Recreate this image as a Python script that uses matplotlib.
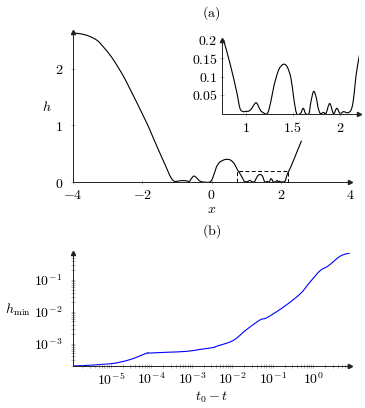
import math
import matplotlib
matplotlib.use('Agg')
import matplotlib.pyplot as plt
import numpy as np
from matplotlib.patches import Rectangle, PathPatch
from matplotlib.path import Path
from matplotlib.ticker import LogLocator, NullFormatter

plt.rcParams['mathtext.fontset'] = 'cm'
plt.rcParams['font.size'] = 10

# (a) film profile h(x)
x_a = [-4.0, -3.8, -3.55, -3.3, -3.1, -2.89, -2.67, -2.5, -2.36, -2.17,
       -1.98, -1.83, -1.69, -1.49, -1.30, -1.20, -1.12, -1.06, -0.98, -0.85,
       -0.72, -0.64, -0.57, -0.51, -0.44, -0.38, -0.32, -0.24, -0.05, 0.04,
       0.14, 0.22, 0.29, 0.38, 0.46, 0.54, 0.62, 0.68,
       0.75, 0.765, 0.835, 0.905, 0.94, 0.975, 1.0, 1.03, 1.06, 1.11,
       1.15, 1.17, 1.23, 1.27, 1.30, 1.35, 1.40, 1.44, 1.48, 1.51,
       1.54, 1.58, 1.61, 1.635, 1.67, 1.69, 1.72, 1.75, 1.765, 1.79,
       1.825, 1.85, 1.89, 1.93, 1.965, 2.0, 2.035, 2.08, 2.115, 2.14,
       2.185, 2.3, 2.4, 2.5, 2.6]
h_a = [2.63, 2.62, 2.58, 2.50, 2.37, 2.21, 2.0, 1.82, 1.65, 1.42,
       1.18, 0.99, 0.79, 0.51, 0.25, 0.11, 0.035, 0.01, 0.015, 0.025,
       0.02, 0.01, 0.07, 0.105, 0.08, 0.04, 0.012, 0.0, 0.0, 0.08,
       0.26, 0.34, 0.37, 0.395, 0.40, 0.39, 0.35, 0.30,
       0.215, 0.2, 0.135, 0.059, 0.014, 0.005, 0.006, 0.006, 0.012, 0.029,
       0.012, 0.005, 0.0, 0.036, 0.075, 0.118, 0.133, 0.126, 0.095, 0.04,
       0.0, 0.0, 0.014, 0.0, 0.0, 0.03, 0.06, 0.04, 0.018, 0.0,
       0.003, 0.0, 0.027, 0.0, 0.014, 0.0, 0.005, 0.002, 0.009, 0.036,
       0.13, 0.28, 0.43, 0.58, 0.73]

xticks_a = [-4, -2, 0, 2, 4]
yticks_a = [0, 1, 2]
xticks_in = [1, 1.5, 2]
yticks_in = [0.05, 0.1, 0.15, 0.2]
zoom_box = (0.75, 2.2, 0.0, 0.2)

# (b) minimum thickness
t_b = [1.17e-6, 9.5e-6, 2.95e-5, 7.6e-5, 9.1e-5, 2.5e-4, 7.4e-4, 1.58e-3,
       3.4e-3, 4.1e-3, 1.05e-2, 2.24e-2, 4.9e-2, 7.1e-2, 0.18, 0.47, 0.83,
       1.48, 2.34, 4.68, 8.1]
hmin_b = [2.0e-4, 2.34e-4, 3.16e-4, 5.0e-4, 5.1e-4, 5.4e-4, 5.75e-4, 6.6e-4,
          7.6e-4, 8.3e-4, 1.26e-3, 2.75e-3, 5.6e-3, 6.5e-3, 1.38e-2, 3.6e-2,
          8.5e-2, 0.195, 0.275, 0.56, 0.70]
xticks_b = [1e-5, 1e-4, 1e-3, 1e-2, 1e-1, 1e0]
yticks_b = [1e-3, 1e-2, 1e-1]


def smooth_path(x, y, log=False):
    # catmull-rom through the points, like pgfplots "smooth"
    p = np.column_stack([x, y]).astype(float)
    if log:
        p = np.log10(p)
    ext = np.vstack([p[0], p, p[-1]])
    verts = [p[0]]
    codes = [Path.MOVETO]
    for i in range(len(p) - 1):
        p0, p1, p2, p3 = ext[i], ext[i + 1], ext[i + 2], ext[i + 3]
        verts += [p1 + (p2 - p0) / 6, p2 - (p3 - p1) / 6, p2]
        codes += [Path.CURVE4] * 3
    verts = np.array(verts)
    if log:
        verts = 10 ** verts
    return Path(verts, codes)


def pgf_axes(ax, xpad, ypad):
    for s in ('top', 'right'):
        ax.spines[s].set_visible(False)
    for s in ('left', 'bottom'):
        ax.spines[s].set_linewidth(0.7)
        ax.spines[s].set_color('#222222')
    ax.tick_params(which='both', direction='inout', color='#999999', width=0.5)
    ax.tick_params(axis='x', pad=xpad)
    ax.tick_params(axis='y', pad=ypad)
    ax.tick_params(which='major', length=3.5)
    ax.tick_params(which='minor', length=2.5)
    ax.plot(1, 0, marker='>', ms=3, color='#222222', transform=ax.transAxes,
            clip_on=False)
    ax.plot(0, 1, marker='^', ms=3, color='#222222', transform=ax.transAxes,
            clip_on=False)


def tex(v):
    return '$%g$' % v


fig = plt.figure(figsize=(3.65, 4.08), dpi=100)

# main panel
ax = fig.add_axes([73 / 365, 1 - 182 / 408, 277 / 365, 150 / 408])
ax.add_patch(PathPatch(smooth_path(x_a, h_a), fill=False, ec='black', lw=0.8))
ax.add_patch(Rectangle((zoom_box[0], zoom_box[2]), zoom_box[1] - zoom_box[0],
                       zoom_box[3] - zoom_box[2], fill=False, ls=(0, (4, 2.5)),
                       lw=0.7, color='black'))
ax.set_xlim(-4, 4)
ax.set_ylim(0, 2.65)
ax.set_xticks(xticks_a, labels=[tex(v) for v in xticks_a])
ax.set_yticks(yticks_a, labels=[tex(v) for v in yticks_a])
ax.set_xlabel(r'$x$')
ax.xaxis.set_label_coords(0.5, -0.135)
ax.set_ylabel(r'$h$', rotation=0, va='center')
ax.yaxis.set_label_coords(-0.095, 0.5)
pgf_axes(ax, 2.5, 5.5)

# inset
axi = fig.add_axes([222 / 365, 1 - 113.5 / 408, 137 / 365, 74 / 408])
axi.add_patch(PathPatch(smooth_path(x_a, h_a), fill=False, ec='black', lw=0.8))
axi.set_xlim(zoom_box[0], zoom_box[1])
axi.set_ylim(zoom_box[2], zoom_box[3])
axi.set_xticks(xticks_in, labels=[tex(v) for v in xticks_in])
axi.set_yticks(yticks_in, labels=[tex(v) for v in yticks_in])
pgf_axes(axi, 4, 1.5)

fig.text(211.5 / 365, 1 - 13 / 408, r'$\mathrm{(a)}$', ha='center', va='center')

# lower panel
axb = fig.add_axes([73 / 365, 1 - 366 / 408, 277 / 365, 113 / 408])
axb.set_xscale('log')
axb.set_yscale('log')
axb.add_patch(PathPatch(smooth_path(t_b, hmin_b, log=True), fill=False,
                        ec='blue', lw=0.8))
axb.set_xlim(t_b[0], t_b[-1])
axb.set_ylim(hmin_b[0], 0.7)
axb.set_xticks(xticks_b, labels=[r'$10^{%d}$' % round(math.log10(v))
                                 for v in xticks_b])
axb.set_yticks(yticks_b, labels=[r'$10^{%d}$' % round(math.log10(v))
                                 for v in yticks_b])
axb.xaxis.set_minor_locator(LogLocator(base=10, subs=range(2, 10), numticks=20))
axb.yaxis.set_minor_locator(LogLocator(base=10, subs=range(2, 10), numticks=20))
axb.xaxis.set_minor_formatter(NullFormatter())
axb.yaxis.set_minor_formatter(NullFormatter())
axb.set_xlabel(r'$t_0-t$')
axb.xaxis.set_label_coords(0.5, -0.21)
axb.set_ylabel(r'$h_{\min}$', rotation=0, va='center')
axb.yaxis.set_label_coords(-0.2, 0.5)
pgf_axes(axb, 2, 6)

fig.text(211.5 / 365, 1 - 231 / 408, r'$\mathrm{(b)}$', ha='center', va='center')

fig.savefig('out.png', dpi=100)
